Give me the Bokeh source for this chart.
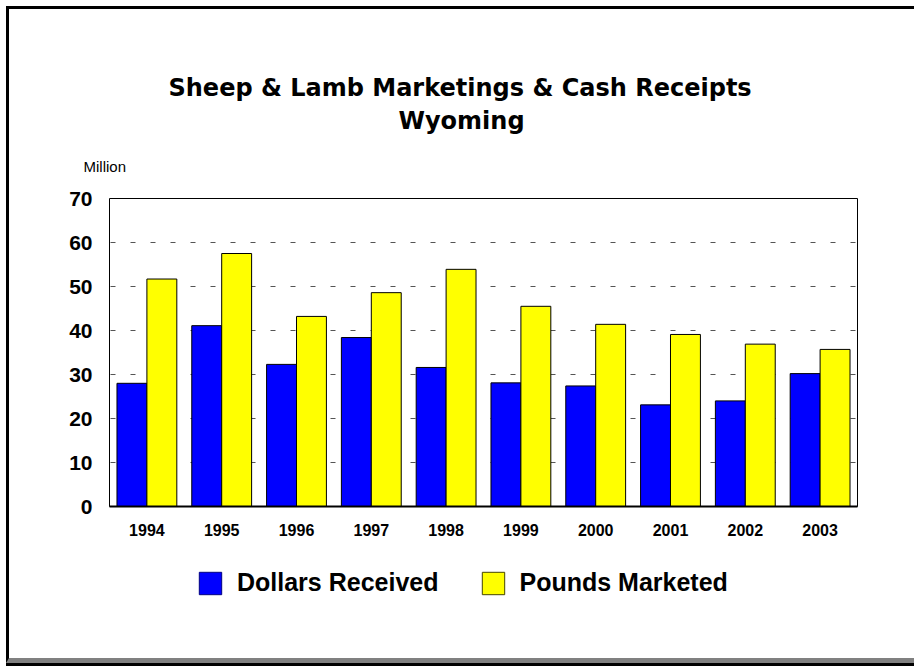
from bokeh.plotting import figure
from bokeh.layouts import column
from bokeh.models import (ColumnDataSource, FactorRange, Range1d, Legend, LegendItem,
                          Title, FixedTicker)
from bokeh.transform import dodge
from bokeh.embed import file_html
from bokeh.resources import INLINE

years = ["1994", "1995", "1996", "1997", "1998", "1999", "2000", "2001", "2002", "2003"]
dollars_received = [28.0, 41.1, 32.3, 38.4, 31.6, 28.1, 27.4, 23.1, 24.0, 30.2]
pounds_marketed = [51.7, 57.5, 43.2, 48.6, 53.9, 45.5, 41.4, 39.1, 36.9, 35.7]
y_ticks = [0, 10, 20, 30, 40, 50, 60, 70]

title_line1 = "Sheep & Lamb Marketings & Cash Receipts"
title_line2 = "Wyoming"
unit_label = "Million"
series_names = ["Dollars Received", "Pounds Marketed"]
series_colors = ["#0000FF", "#FFFF00"]

src = ColumnDataSource(dict(year=years, dollars=dollars_received, pounds=pounds_marketed))

# ---- main chart ----
p = figure(x_range=FactorRange(factors=years, range_padding=0), y_range=Range1d(0, 70),
           width=905, height=541, output_backend="svg", toolbar_location=None,
           min_border_left=100, min_border_right=57, min_border_top=189, min_border_bottom=44)
p.title.visible = False
p.background_fill_color = "white"
p.border_fill_color = "white"
p.outline_line_color = "black"
p.outline_line_width = 1

p.vbar(x=dodge("year", -0.2, range=p.x_range), top="dollars", width=0.4, source=src,
       fill_color=series_colors[0], line_color="black", line_width=1)
p.vbar(x=dodge("year", 0.2, range=p.x_range), top="pounds", width=0.4, source=src,
       fill_color=series_colors[1], line_color="black", line_width=1)

p.xgrid.visible = False
p.ygrid.ticker = FixedTicker(ticks=y_ticks)
p.ygrid.grid_line_color = "#555555"
p.ygrid.grid_line_dash = "5 15"
p.ygrid.grid_line_dash_offset = 19

p.yaxis.ticker = FixedTicker(ticks=y_ticks)
p.yaxis.axis_line_color = None
p.yaxis.major_tick_line_color = None
p.yaxis.minor_tick_line_color = None
p.yaxis.major_tick_out = 0
p.yaxis.minor_tick_out = 0
p.yaxis.major_label_text_font = "Liberation Sans"
p.yaxis.major_label_text_font_style = "bold"
p.yaxis.major_label_text_font_size = "21px"
p.yaxis.major_label_text_color = "black"
p.yaxis.major_label_standoff = 17

p.xaxis.axis_line_color = "black"
p.xaxis.axis_line_width = 2
p.xaxis.major_tick_line_color = None
p.xaxis.minor_tick_line_color = None
p.xaxis.major_tick_out = 0
p.xaxis.minor_tick_out = 0
p.xaxis.major_label_text_font = "Liberation Sans"
p.xaxis.major_label_text_font_style = "bold"
p.xaxis.major_label_text_font_size = "16px"
p.xaxis.major_label_text_color = "black"
p.xaxis.major_label_standoff = 17

# titles stacked from the frame outward
p.add_layout(Title(text=unit_label, align="left", offset=-26, vertical_align="top", standoff=44,
                   text_font="Liberation Sans", text_font_style="normal", text_font_size="15px",
                   text_color="black"), "above")
p.add_layout(Title(text=title_line2, align="left", offset=289, vertical_align="middle", standoff=0,
                   text_font="DejaVu Sans", text_font_style="bold", text_font_size="24px",
                   text_color="black"), "above")
p.add_layout(Title(text=title_line1, align="left", offset=59, vertical_align="middle", standoff=6,
                   text_font="DejaVu Sans", text_font_style="bold", text_font_size="24px",
                   text_color="black"), "above")

# ---- legend strip: same series as hidden renderers ----
lg = figure(x_range=FactorRange(factors=years, range_padding=0), y_range=Range1d(-1001, -1000),
            width=905, height=108, output_backend="svg", toolbar_location=None,
            min_border=0)
lg.title.visible = False
lg.axis.visible = False
lg.grid.visible = False
lg.outline_line_color = None
lg.background_fill_color = "white"
lg.border_fill_color = "white"
l1 = lg.vbar(x=dodge("year", -0.2, range=lg.x_range), top="dollars", width=0.4, source=src,
             fill_color=series_colors[0], line_color="#000080", line_width=1, visible=False)
l2 = lg.vbar(x=dodge("year", 0.2, range=lg.x_range), top="pounds", width=0.4, source=src,
             fill_color=series_colors[1], line_color="#444400", line_width=1, visible=False)

legend = Legend(items=[LegendItem(label=series_names[0], renderers=[l1]),
                       LegendItem(label=series_names[1], renderers=[l2])],
                orientation="horizontal", location=(87, 61),
                glyph_width=28, glyph_height=28, label_standoff=13, spacing=40,
                padding=0, margin=0, border_line_color=None, background_fill_alpha=0,
                inactive_fill_alpha=0,
                label_text_font="Liberation Sans", label_text_font_style="bold",
                label_text_font_size="25px", label_text_color="black",
                label_text_baseline="middle")
lg.add_layout(legend)

layout = column(p, lg, spacing=0,
                styles={"margin-left": "6px", "margin-top": "6px",
                        "border-left": "3px solid black", "border-top": "3px solid black",
                        "border-bottom": "5px solid #808080",
                        "box-shadow": "0 3px 0 0 #000000"})

open("out.html", "w").write(file_html(layout, INLINE))
